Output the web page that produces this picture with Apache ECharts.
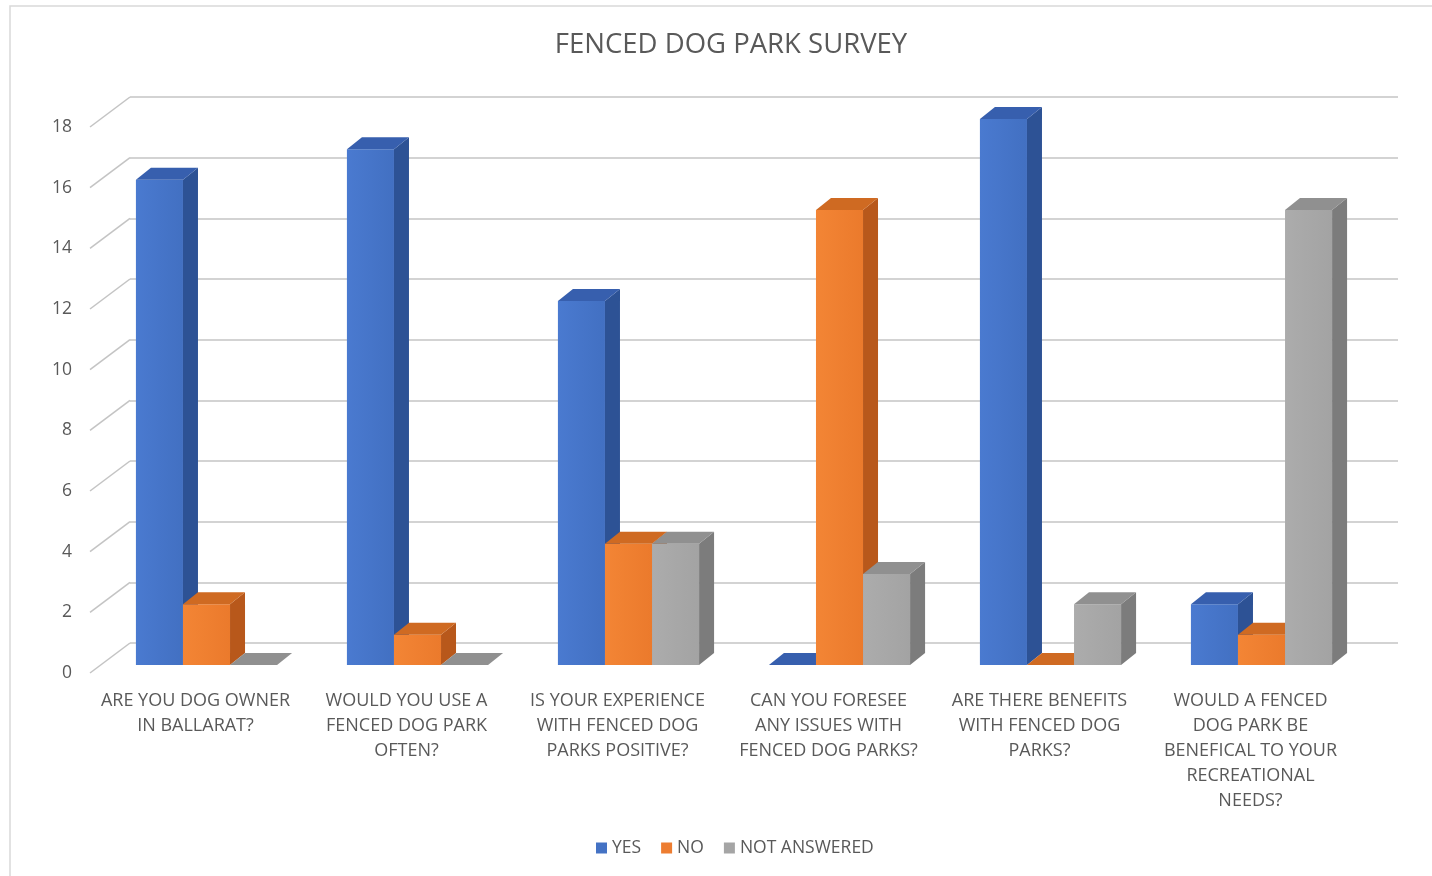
<!DOCTYPE html>
<html>
<head>
<meta charset="utf-8">
<script src="https://cdn.jsdelivr.net/npm/echarts@6/dist/echarts.min.js"></script>
<style>
html,body{margin:0;padding:0;background:#fff;}
#chart{width:1432px;height:876px;}
</style>
</head>
<body>
<div id="chart"></div>
<script>
var categories = [
  "ARE YOU DOG OWNER\nIN BALLARAT?",
  "WOULD YOU USE A\nFENCED DOG PARK\nOFTEN?",
  "IS YOUR EXPERIENCE\nWITH FENCED DOG\nPARKS POSITIVE?",
  "CAN YOU FORESEE\nANY ISSUES WITH\nFENCED DOG PARKS?",
  "ARE THERE BENEFITS\nWITH FENCED DOG\nPARKS?",
  "WOULD A FENCED\nDOG PARK BE\nBENEFICAL TO YOUR\nRECREATIONAL\nNEEDS?"
];
var seriesNames = ["YES", "NO", "NOT ANSWERED"];
var yesValues = [16, 17, 12, 0, 18, 2];
var noValues = [2, 1, 4, 15, 0, 1];
var notAnsweredValues = [0, 0, 4, 3, 2, 15];
var yTicks = [0, 2, 4, 6, 8, 10, 12, 14, 16, 18];

var faceColors = [
  {front: ['#4a7ad0', '#4270c2'], side: '#2d5295', top: '#375fae', legend: '#4472C4'},
  {front: ['#f38535', '#eb7a2c'], side: '#b8581b', top: '#cf6a22', legend: '#ED7D31'},
  {front: ['#acacac', '#a3a3a3'], side: '#7c7c7c', top: '#909090', legend: '#A5A5A5'}
];

var DEPTH_X = 40, DEPTH_Y = -30;     // floor depth (front -> back wall)
var BAR_OFF_X = 11, BAR_OFF_Y = -8;  // bar front plane offset from floor front
var BAR_DX = 15, BAR_DY = -12;       // bar thickness
var BAR_RATIO = 0.223;

function makeBarRender(sIdx) {
  var c = faceColors[sIdx];
  return function (params, api) {
    var cat = api.value(0), val = api.value(1);
    var base = api.coord([cat, 0]);
    var top = api.coord([cat, val]);
    var band = api.size([1, 0])[0];
    var bw = band * BAR_RATIO;
    var x0 = base[0] - 1.5 * bw + sIdx * bw + BAR_OFF_X;
    var yb = base[1] + BAR_OFF_Y;
    var yt = top[1] + BAR_OFF_Y;
    var children = [];
    if (val > 0) {
      children.push({
        type: 'rect',
        shape: {x: x0, y: yt, width: bw, height: yb - yt},
        style: {fill: new echarts.graphic.LinearGradient(0, 0, 1, 0, [
          {offset: 0, color: c.front[0]}, {offset: 1, color: c.front[1]}])}
      });
      children.push({
        type: 'polygon',
        shape: {points: [[x0 + bw, yt], [x0 + bw + BAR_DX, yt + BAR_DY], [x0 + bw + BAR_DX, yb + BAR_DY], [x0 + bw, yb]]},
        style: {fill: c.side}
      });
    }
    children.push({
      type: 'polygon',
      shape: {points: [[x0, yt], [x0 + BAR_DX, yt + BAR_DY], [x0 + bw + BAR_DX, yt + BAR_DY], [x0 + bw, yt]]},
      style: {fill: c.top}
    });
    return {type: 'group', children: children};
  };
}

var valueLists = [yesValues, noValues, notAnsweredValues];
var barSeries = seriesNames.map(function (name, i) {
  return {
    name: name,
    type: 'custom',
    xAxisIndex: 0,
    yAxisIndex: 0,
    renderItem: makeBarRender(i),
    itemStyle: {color: faceColors[i].legend},
    encode: {x: 0, y: 1},
    data: valueLists[i].map(function (v, k) { return [k, v]; }),
    z: 3
  };
});

var tickSeries = {
  name: 'ticks',
  type: 'custom',
  xAxisIndex: 0,
  yAxisIndex: 0,
  silent: true,
  renderItem: function (params, api) {
    var p = api.coord([0, api.value(0)]);
    var x = params.coordSys.x;
    return {
      type: 'line',
      shape: {x1: x, y1: p[1], x2: x + DEPTH_X, y2: p[1] + DEPTH_Y},
      style: {stroke: '#c4c4c4', lineWidth: 1.5}
    };
  },
  encode: {y: 0},
  data: yTicks.map(function (t) { return [t]; }),
  z: 1
};

var chart = echarts.init(document.getElementById('chart'), null, {renderer: 'canvas'});
var fontFam = '"Open Sans", "Noto Sans", sans-serif';
chart.setOption({
  animation: false,
  backgroundColor: '#fff',
  title: {
    text: 'FENCED DOG PARK SURVEY',
    left: 726,
    textAlign: 'center',
    top: 26,
    textStyle: {fontFamily: fontFam, fontSize: 27.5, fontWeight: 'normal', color: '#595959'}
  },
  graphic: [{
    type: 'rect',
    shape: {x: 10, y: 6, width: 1440, height: 900},
    style: {fill: 'none', stroke: '#d9d9d9', lineWidth: 1.5},
    silent: true,
    z: -10
  }],
  legend: {
    data: seriesNames,
    bottom: 14,
    left: 591,
    icon: 'rect',
    itemWidth: 11,
    itemHeight: 11,
    itemGap: 20,
    textStyle: {fontFamily: fontFam, fontSize: 17.5, color: '#595959'}
  },
  grid: [
    {left: 90, right: 76, top: 127, bottom: 203},
    {left: 130, right: 34, top: 97, bottom: 233}
  ],
  xAxis: [
    {
      type: 'category', gridIndex: 0, data: categories,
      axisLine: {show: false}, axisTick: {show: false},
      axisLabel: {interval: 0, margin: 15, fontFamily: fontFam, fontSize: 18, color: '#595959', lineHeight: 25}
    },
    {type: 'category', gridIndex: 1, data: categories, show: false}
  ],
  yAxis: [
    {
      type: 'value', gridIndex: 0, min: 0, max: 18, interval: 2,
      axisLine: {show: false}, axisTick: {show: false}, splitLine: {show: false},
      axisLabel: {margin: 18, fontFamily: fontFam, fontSize: 17.5, color: '#595959', padding: [8, 0, 0, 0]}
    },
    {
      type: 'value', gridIndex: 1, min: 0, max: 18, interval: 2,
      axisLine: {show: false}, axisTick: {show: false}, axisLabel: {show: false},
      splitLine: {show: true, lineStyle: {color: '#c4c4c4', width: 1.5}}
    }
  ],
  series: [tickSeries].concat(barSeries)
});
</script>
</body>
</html>
